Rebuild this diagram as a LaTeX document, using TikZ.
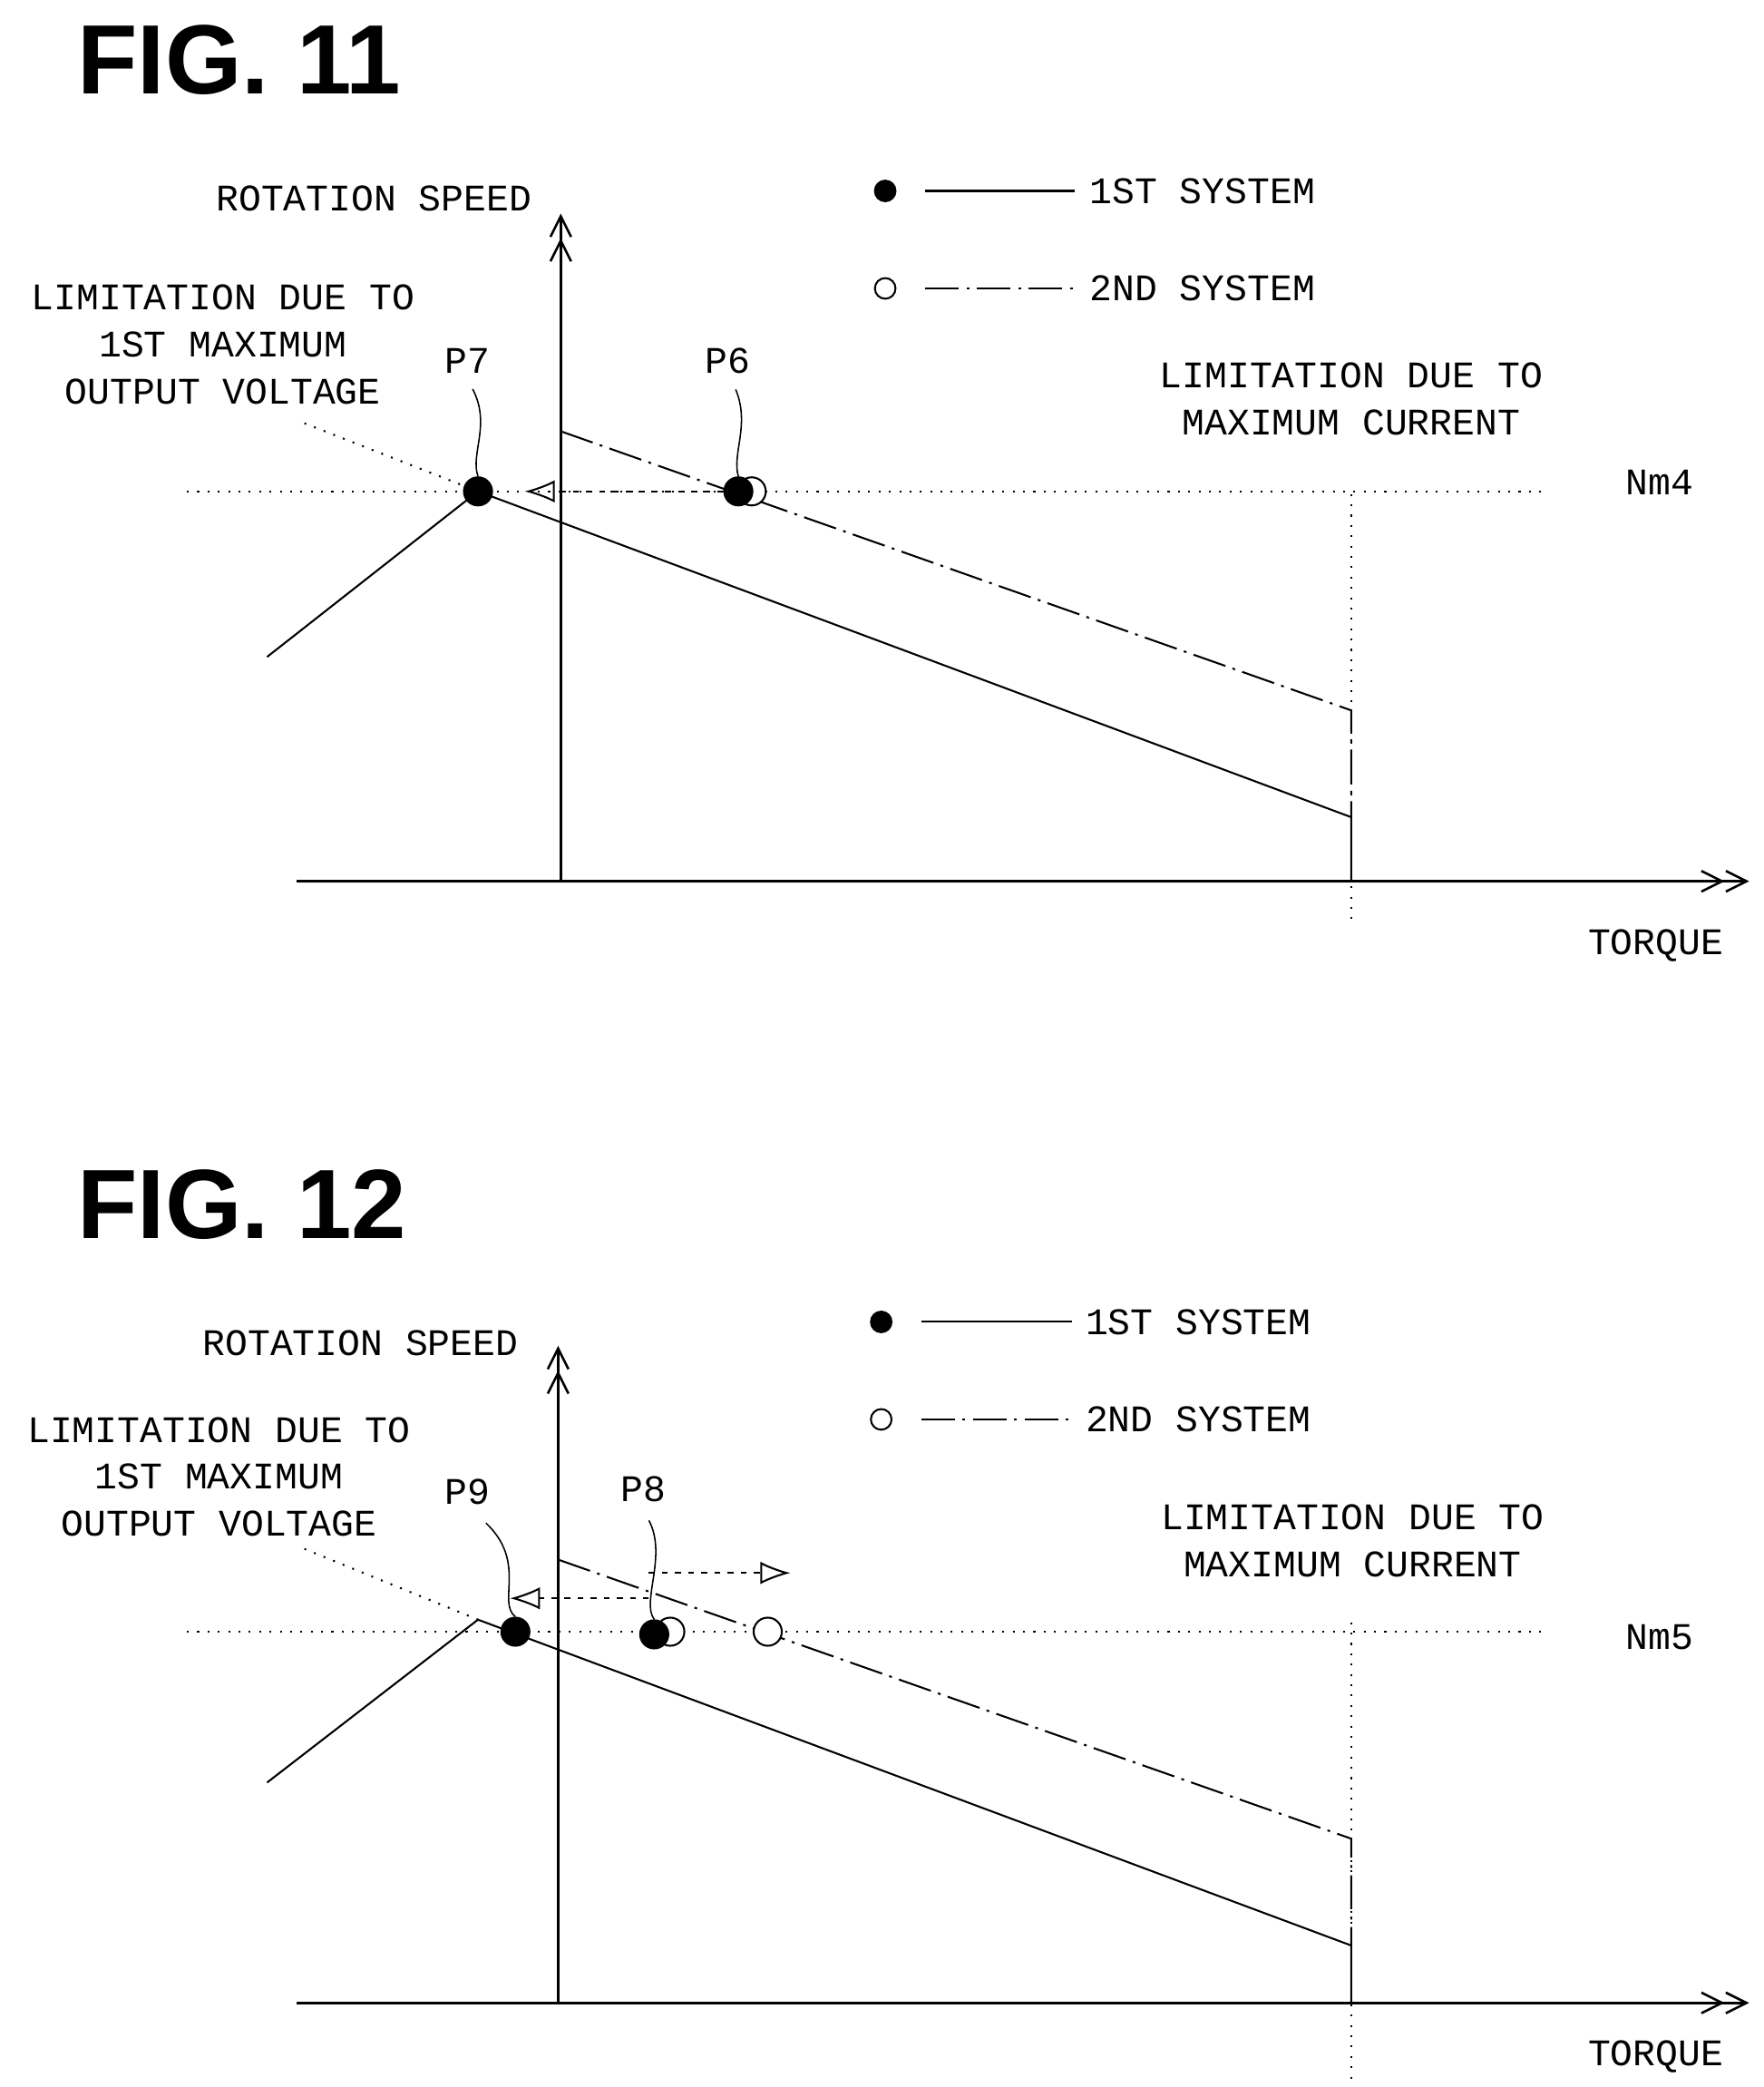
\documentclass[tikz,border=0pt]{standalone}
\usepackage{fontspec}
\setmainfont{Liberation Mono}
\newfontfamily\figfont{Liberation Sans}
\usetikzlibrary{arrows.meta}
\tikzset{
  lbl/.style={font=\fontsize{40}{50}\selectfont, inner sep=0pt, align=center},
  figlbl/.style={font=\figfont\bfseries\fontsize{105}{110}\selectfont, inner sep=0pt, anchor=west},
  axis/.style={line width=2.5pt, -{Straight Barb[length=22pt,width=22pt]Straight Barb[length=22pt,width=22pt]}},
  first/.style={line width=2pt},
  second/.style={line width=2pt, dash pattern=on 36pt off 8pt on 3pt off 8pt},
  guide/.style={line width=2pt, dash pattern=on 2pt off 9pt},
  fdot/.style={circle, fill=black, draw, line width=2pt, minimum size=30pt, inner sep=0pt},
  odot/.style={circle, fill=white, draw, line width=2pt, minimum size=30pt, inner sep=0pt},
  move/.style={line width=2pt, dash pattern=on 6pt off 8pt, -{Latex[open,length=32pt,width=24pt]}}
}
\begin{document}
\begin{tikzpicture}[x=0.05cm,y=-0.05cm]
\useasboundingbox (0,0) rectangle (1321,1563);

% ---------- FIG. 11 ----------
\node[figlbl] (f11) at (58,45) {FIG. 11};

% Axes
\coordinate (o11) at (420,660);
\coordinate (yt11) at (420,160);
\coordinate (xl11) at (222,660);
\coordinate (xr11) at (1310,660);
\draw[axis] (o11) -- (yt11);
\draw[axis] (xl11) -- (xr11);
\node[lbl] (ys11) at (280,149) {ROTATION SPEED};
\node[lbl] (xt11) at (1240,708) {TORQUE};

% Legend
\node[fdot, minimum size=22pt] (lf11) at (663,143) {};
\node[odot, minimum size=22pt] (lo11) at (663,216) {};
\coordinate (la11) at (693,143);
\coordinate (lb11) at (805,143);
\coordinate (lc11) at (693,216);
\coordinate (ld11) at (805,216);
\draw[first] (la11) -- (lb11);
\draw[second] (lc11) -- (ld11);
\node[lbl, anchor=west] (s1a) at (816,143) {1ST SYSTEM};
\node[lbl, anchor=west] (s2a) at (816,216) {2ND SYSTEM};

% Limits
\node[lbl] (vlim11) at (167,258) {LIMITATION DUE TO\\1ST MAXIMUM\\OUTPUT VOLTAGE};
\node[lbl] (clim11) at (1012,299) {LIMITATION DUE TO\\MAXIMUM CURRENT};
\coordinate (ha11) at (140,368);
\coordinate (hb11) at (1160,368);
\draw[guide] (ha11) -- (hb11);
\node[lbl] (nm4) at (1243,361) {Nm4};
\coordinate (va11) at (1012,370);
\coordinate (vb11) at (1012,690);
\draw[guide] (va11) -- (vb11);

% Curves
\coordinate (s11a) at (200,492);
\coordinate (s11b) at (358,368);
\coordinate (s11c) at (1012,612);
\coordinate (s11d) at (1012,660);
\coordinate (t11a) at (420,323);
\coordinate (t11b) at (1012,532);
\draw[first] (s11a) -- (s11b) -- (s11c) -- (s11d);
\draw[second] (t11a) -- (t11b) -- (s11c);
\coordinate (vl11) at (228,317);
\draw[guide] (vl11) -- (s11b);

% Points
\node[fdot] (p7) at (358,368) {};
\node[odot] (p6o) at (563,368) {};
\node[fdot] (p6) at (553,368) {};
\node[lbl] (p7l) at (350,270) {P7};
\node[lbl] (p6l) at (545,270) {P6};
\draw[line width=1.5pt] (p7l.south) ++(4,12) .. controls (368,318) and (352,340) .. (p7.north);
\draw[line width=1.5pt] (p6l.south) ++(6,12) .. controls (562,318) and (548,340) .. (p6.north);
\coordinate (a11) at (393,368);
\draw[move] (p6.west) -- (a11);

% ---------- FIG. 12 ----------
\node[figlbl] (f12) at (58,902) {FIG. 12};

% Axes
\coordinate (o12) at (418,1500);
\coordinate (yt12) at (418,1008);
\coordinate (xl12) at (222,1500);
\coordinate (xr12) at (1310,1500);
\draw[axis] (o12) -- (yt12);
\draw[axis] (xl12) -- (xr12);
\node[lbl] (ys12) at (270,1006) {ROTATION SPEED};
\node[lbl] (xt12) at (1240,1540) {TORQUE};

% Legend
\node[fdot, minimum size=22pt] (lf12) at (660,990) {};
\node[odot, minimum size=22pt] (lo12) at (660,1063) {};
\coordinate (la12) at (690,990);
\coordinate (lb12) at (803,990);
\coordinate (lc12) at (690,1063);
\coordinate (ld12) at (803,1063);
\draw[first] (la12) -- (lb12);
\draw[second] (lc12) -- (ld12);
\node[lbl, anchor=west] (s1b) at (813,990) {1ST SYSTEM};
\node[lbl, anchor=west] (s2b) at (813,1063) {2ND SYSTEM};

% Limits
\node[lbl] (vlim12) at (164,1106) {LIMITATION DUE TO\\1ST MAXIMUM\\OUTPUT VOLTAGE};
\node[lbl] (clim12) at (1013,1154) {LIMITATION DUE TO\\MAXIMUM CURRENT};
\coordinate (ha12) at (140,1222);
\coordinate (hb12) at (1160,1222);
\draw[guide] (ha12) -- (hb12);
\node[lbl] (nm5) at (1243,1226) {Nm5};
\coordinate (va12) at (1012,1215);
\coordinate (vb12) at (1012,1560);
\draw[guide] (va12) -- (vb12);

% Curves
\coordinate (s12a) at (200,1335);
\coordinate (s12b) at (358,1213);
\coordinate (s12c) at (1012,1457);
\coordinate (s12d) at (1012,1500);
\coordinate (t12a) at (418,1168);
\coordinate (t12b) at (1012,1377);
\draw[first] (s12a) -- (s12b) -- (s12c) -- (s12d);
\draw[second] (t12a) -- (t12b) -- (s12c);
\coordinate (vl12) at (228,1160);
\draw[guide] (vl12) -- (s12b);

% Points
\node[fdot] (p9) at (386,1222) {};
\node[odot] (p8o) at (502,1222) {};
\node[fdot] (p8) at (490,1224) {};
\node[odot] (p8n) at (575,1222) {};
\node[lbl] (p9l) at (350,1117) {P9};
\node[lbl] (p8l) at (482,1115) {P8};
\draw[line width=1.5pt] (p9l.south) ++(14,14) .. controls (395,1170) and (372,1200) .. (p9.north);
\draw[line width=1.5pt] (p8l.south) ++(4,14) .. controls (500,1165) and (480,1200) .. (p8.north);
\coordinate (a12l0) at (486,1197);
\coordinate (a12l) at (382,1197);
\coordinate (a12r0) at (486,1178);
\coordinate (a12r) at (592,1178);
\draw[move] (a12l0) -- (a12l);
\draw[move] (a12r0) -- (a12r);
\end{tikzpicture}
\end{document}
